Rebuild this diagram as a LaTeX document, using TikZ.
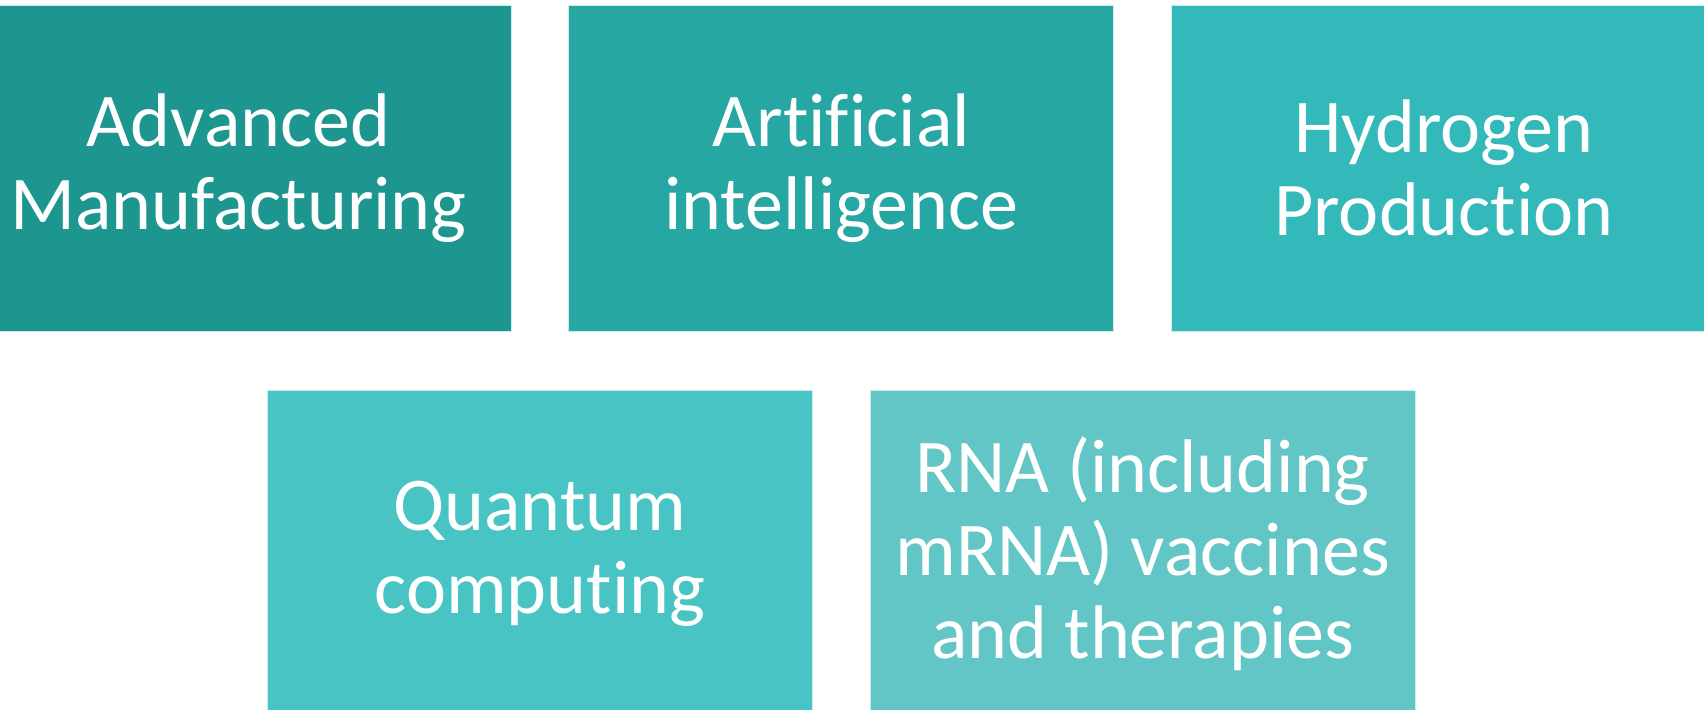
\documentclass[tikz,border=0pt]{standalone}
\usepackage{fontspec}
\setmainfont{Carlito}[Ligatures=NoCommon]
\usetikzlibrary{positioning, calc}
\definecolor{tealA}{RGB}{28,150,143}
\definecolor{tealB}{RGB}{38,167,163}
\definecolor{tealC}{RGB}{51,185,185}
\definecolor{tealD}{RGB}{72,196,196}
\definecolor{tealE}{RGB}{99,198,198}
\tikzset{%
  bx/.style={minimum width=272.5pt, minimum height=163pt, inner sep=0pt,
    draw=white!75!tealC, line width=0.4pt, text=white, align=center,
    font=\fontsize{38}{41.5}\selectfont},
  ba/.style={bx, fill=tealA},
  bb/.style={bx, fill=tealB},
  bc/.style={bx, fill=tealC},
  bd/.style={bx, fill=tealD},
  be/.style={bx, fill=tealE}
}

\begin{document}
\begin{tikzpicture}
        \useasboundingbox (-119.25pt,84pt) rectangle (732.75pt,-271pt);
        \clip (-119.25pt,84pt) rectangle (732.75pt,-271pt);
        \node[ba] (1) []                       {Advanced\\Manufacturing};
        \node[bb] (2) [right = 28.5pt of 1]    {Artificial\\intelligence};
        \node[bc] (3) [right = 28.5pt of 2]    {Hydrogen\\Production};
        \coordinate (g1) at ($(1.south east)!0.5!(2.south west)$);
        \coordinate (g2) at ($(2.south east)!0.5!(3.south west)$);
        \node[bd] (4) [below = 29.5pt of g1]   {Quantum\\computing};
        \node[be] (5) [below = 29.5pt of g2]   {RNA (including\\mRNA) vaccines\\and therapies};
\end{tikzpicture}
\end{document}
